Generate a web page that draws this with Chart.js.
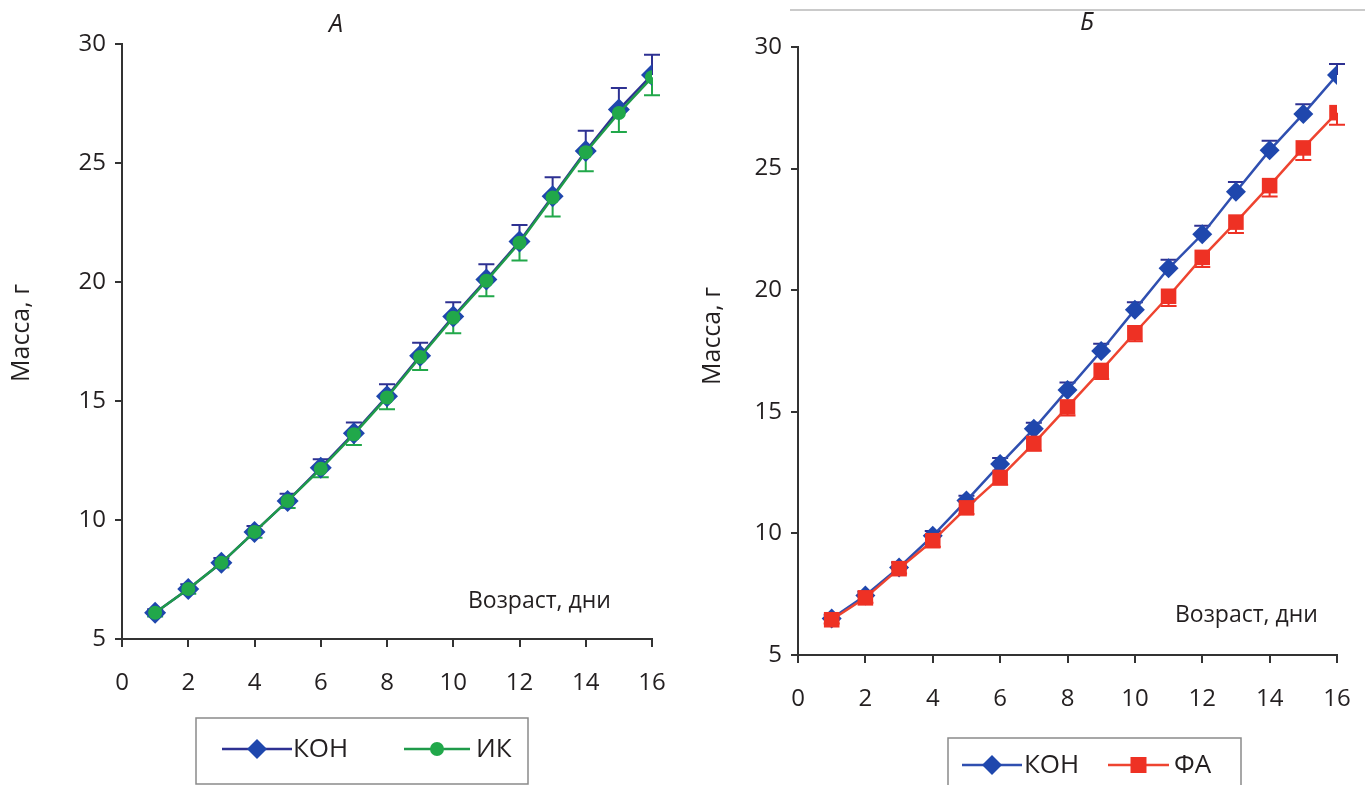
<!DOCTYPE html>
<html>
<head>
<meta charset="utf-8">
<title>Масса, г — Возраст, дни</title>
<script src="https://cdn.jsdelivr.net/npm/chart.js@4.4.0/dist/chart.umd.min.js"></script>
<style>
  html, body { margin: 0; padding: 0; background: #fff; overflow: hidden; }
  #wrap { position: relative; width: 1365px; height: 785px; overflow: hidden; }
  canvas { position: absolute; top: 0; }
  #cA { left: 0; width: 690px; height: 785px; }
  #cB { left: 682px; width: 710px; height: 785px; }
</style>
</head>
<body>
<div id="wrap">
  <canvas id="cA" width="690" height="785"></canvas>
  <canvas id="cB" width="710" height="785"></canvas>
</div>
<script>
// Age, days
const days = [1, 2, 3, 4, 5, 6, 7, 8, 9, 10, 11, 12, 13, 14, 15, 16];

// Panel А: КОН vs ИК, body mass (g) with SEM
const konA    = [6.1, 7.1, 8.2, 9.5, 10.8, 12.2, 13.65, 15.2, 16.9, 18.55, 20.1, 21.7, 23.6, 25.5, 27.25, 28.7];
const konAErr = [0.15, 0.2, 0.2, 0.25, 0.3, 0.35, 0.45, 0.5, 0.55, 0.6, 0.65, 0.7, 0.8, 0.85, 0.9, 0.85];
const ikA     = [6.1, 7.1, 8.2, 9.5, 10.8, 12.15, 13.6, 15.15, 16.85, 18.5, 20.05, 21.65, 23.55, 25.45, 27.1, 28.6];
const ikAErr  = [0.15, 0.2, 0.2, 0.25, 0.3, 0.35, 0.45, 0.5, 0.55, 0.65, 0.65, 0.75, 0.8, 0.8, 0.8, 0.75];

// Panel Б: КОН vs ФА
const konB    = [6.5, 7.45, 8.6, 9.9, 11.35, 12.85, 14.3, 15.9, 17.5, 19.2, 20.9, 22.3, 24.05, 25.75, 27.25, 28.85];
const konBErr = [0.15, 0.15, 0.2, 0.2, 0.2, 0.25, 0.25, 0.3, 0.3, 0.3, 0.35, 0.35, 0.4, 0.4, 0.4, 0.45];
const faB     = [6.45, 7.35, 8.55, 9.7, 11.05, 12.3, 13.7, 15.2, 16.7, 18.25, 19.75, 21.35, 22.8, 24.3, 25.85, 27.3];
const faBErr  = [0.15, 0.2, 0.2, 0.25, 0.25, 0.3, 0.3, 0.35, 0.35, 0.35, 0.4, 0.4, 0.45, 0.45, 0.5, 0.5];

// Axis ticks
const yTicks = [5, 10, 15, 20, 25, 30];
const xTicks = [0, 2, 4, 6, 8, 10, 12, 14, 16];

const FONT = '"Open Sans", "Noto Sans", sans-serif';
const INK = '#231f20';

const C = {
  navy: '#2e3192', blue: '#1f47ad', blueLine: '#2f4fb0',
  green: '#21a84a', greenLine: '#1f9a4a',
  red: '#ee3124', redLine: '#ee4430'
};

const pts = (ys) => days.map((d, i) => ({ x: d, y: ys[i] }));

// Vertical error whiskers: dir = +1 up, -1 down
const errorBars = {
  id: 'errorBars',
  beforeDatasetsDraw(chart) {
    const { ctx, scales: { x, y } } = chart;
    chart.data.datasets.forEach((ds) => {
      if (!ds.errors) return;
      ctx.save();
      ctx.strokeStyle = ds.errColor;
      ctx.lineWidth = 2;
      ds.data.forEach((p, i) => {
        const px = x.getPixelForValue(p.x);
        const py = y.getPixelForValue(p.y);
        const pe = y.getPixelForValue(p.y + ds.errDir * ds.errors[i]);
        ctx.beginPath();
        ctx.moveTo(px, py);
        ctx.lineTo(px, pe);
        ctx.moveTo(px - ds.capHalf, pe);
        ctx.lineTo(px + ds.capHalf, pe);
        ctx.stroke();
      });
      ctx.restore();
    });
  }
};

function drawMarker(ctx, style, cx, cy, r, fill) {
  ctx.fillStyle = fill;
  ctx.beginPath();
  if (style === 'rectRot') {
    ctx.moveTo(cx, cy - r); ctx.lineTo(cx + r, cy); ctx.lineTo(cx, cy + r); ctx.lineTo(cx - r, cy);
    ctx.closePath();
  } else if (style === 'rect') {
    ctx.rect(cx - r, cy - r, 2 * r, 2 * r);
  } else {
    ctx.arc(cx, cy, r, 0, Math.PI * 2);
  }
  ctx.fill();
}

// Panel letter, axis titles and boxed legend
const annotations = {
  id: 'annotations',
  afterDraw(chart, args, o) {
    const ctx = chart.ctx;
    ctx.save();
    ctx.fillStyle = INK;
    ctx.textBaseline = 'middle';

    if (o.topRule) {
      ctx.strokeStyle = '#b8b8b8';
      ctx.lineWidth = 1.5;
      ctx.beginPath();
      ctx.moveTo(o.topRule[0], o.topRule[2]);
      ctx.lineTo(o.topRule[1], o.topRule[2]);
      ctx.stroke();
    }

    ctx.font = 'italic 25px ' + FONT;
    ctx.textAlign = 'center';
    ctx.fillText(o.letter, o.letterPos[0], o.letterPos[1]);

    ctx.font = '25px ' + FONT;
    ctx.save();
    ctx.translate(o.yTitlePos[0], o.yTitlePos[1]);
    ctx.rotate(-Math.PI / 2);
    ctx.fillText('Масса, г', 0, 0);
    ctx.restore();

    ctx.font = '23px ' + FONT;
    ctx.textAlign = 'left';
    ctx.fillText('Возраст, дни', o.xTitlePos[0], o.xTitlePos[1]);

    // legend
    const L = o.legend;
    ctx.strokeStyle = '#8a8a8a';
    ctx.lineWidth = 1.5;
    ctx.strokeRect(L.box[0], L.box[1], L.box[2], L.box[3]);
    ctx.font = '26px ' + FONT;
    L.items.forEach((it) => {
      ctx.strokeStyle = it.line;
      ctx.lineWidth = 2.5;
      ctx.beginPath();
      ctx.moveTo(it.x0, L.cy);
      ctx.lineTo(it.x1, L.cy);
      ctx.stroke();
      drawMarker(ctx, it.style, (it.x0 + it.x1) / 2, L.cy, it.r, it.fill);
      ctx.fillStyle = INK;
      ctx.fillText(it.text, it.tx, L.cy + 1);
    });
    ctx.restore();
  }
};

function axisOptions(yWidth, xHeight, xPad) {
  const tickFont = { family: FONT, size: 24 };
  return {
    x: {
      type: 'linear', min: 0, max: 16,
      afterBuildTicks: (s) => { s.ticks = xTicks.map((v) => ({ value: v })); },
      afterFit: (s) => { s.height = xHeight; },
      ticks: { color: INK, font: tickFont, padding: xPad, maxRotation: 0, autoSkip: false },
      grid: { drawOnChartArea: false, drawTicks: true, tickLength: 8, color: '#333', lineWidth: 2 },
      border: { display: true, color: '#333', width: 2 }
    },
    y: {
      type: 'linear', min: 5, max: 30,
      afterBuildTicks: (s) => { s.ticks = yTicks.map((v) => ({ value: v })); },
      afterFit: (s) => { s.width = yWidth; },
      ticks: { color: INK, font: tickFont, padding: 9, autoSkip: false },
      grid: { drawOnChartArea: false, drawTicks: true, tickLength: 7, color: '#333', lineWidth: 2 },
      border: { display: true, color: '#333', width: 2 }
    }
  };
}

Chart.defaults.animation = false;

// Panel А
new Chart(document.getElementById('cA'), {
  type: 'line',
  data: {
    datasets: [
      {
        label: 'ИК', data: pts(ikA), order: 0,
        borderColor: C.greenLine, borderWidth: 2.5,
        pointStyle: 'circle', pointRadius: 7, pointBackgroundColor: C.green, pointBorderWidth: 0,
        errors: ikAErr, errDir: -1, errColor: C.green, capHalf: 8
      },
      {
        label: 'КОН', data: pts(konA), order: 1,
        borderColor: C.navy, borderWidth: 2.5,
        pointStyle: 'rectRot', pointRadius: 11, pointBackgroundColor: C.blue, pointBorderWidth: 0,
        errors: konAErr, errDir: 1, errColor: C.navy, capHalf: 8
      }
    ]
  },
  options: {
    responsive: false, devicePixelRatio: 1, animation: false,
    layout: { padding: { top: 44, right: 38, left: 0, bottom: 0 } },
    scales: axisOptions(122, 146, 22),
    plugins: {
      legend: { display: false }, tooltip: { enabled: false },
      annotations: {
        letter: 'А', letterPos: [336, 25],
        yTitlePos: [22, 333],
        xTitlePos: [468, 601],
        legend: {
          box: [196, 718, 332, 66], cy: 749,
          items: [
            { x0: 222, x1: 292, style: 'rectRot', r: 10, fill: C.blue, line: C.navy, text: 'КОН', tx: 293 },
            { x0: 404, x1: 470, style: 'circle', r: 7, fill: C.green, line: C.greenLine, text: 'ИК', tx: 476 }
          ]
        }
      }
    }
  },
  plugins: [errorBars, annotations]
});

// Panel Б
new Chart(document.getElementById('cB'), {
  type: 'line',
  data: {
    datasets: [
      {
        label: 'ФА', data: pts(faB), order: 0,
        borderColor: C.redLine, borderWidth: 2.5,
        pointStyle: 'rect', pointRadius: 11, pointBackgroundColor: C.red, pointBorderWidth: 0,
        errors: faBErr, errDir: -1, errColor: C.red, capHalf: 8
      },
      {
        label: 'КОН', data: pts(konB), order: 1,
        borderColor: C.blueLine, borderWidth: 2.5,
        pointStyle: 'rectRot', pointRadius: 10, pointBackgroundColor: C.blue, pointBorderWidth: 0,
        errors: konBErr, errDir: 1, errColor: C.navy, capHalf: 8
      }
    ]
  },
  options: {
    responsive: false, devicePixelRatio: 1, animation: false,
    layout: { padding: { top: 47, right: 55, left: 0, bottom: 0 } },
    scales: axisOptions(116, 130, 22),
    plugins: {
      legend: { display: false }, tooltip: { enabled: false },
      annotations: {
        topRule: [108, 710, 10],
        letter: 'Б', letterPos: [405, 23],
        yTitlePos: [31, 336],
        xTitlePos: [493, 615],
        legend: {
          box: [266, 738, 293, 60], cy: 765,
          items: [
            { x0: 280, x1: 340, style: 'rectRot', r: 10, fill: C.blue, line: C.blueLine, text: 'КОН', tx: 342 },
            { x0: 426, x1: 487, style: 'rect', r: 8, fill: C.red, line: C.redLine, text: 'ФА', tx: 492 }
          ]
        }
      }
    }
  },
  plugins: [errorBars, annotations]
});
</script>
</body>
</html>
